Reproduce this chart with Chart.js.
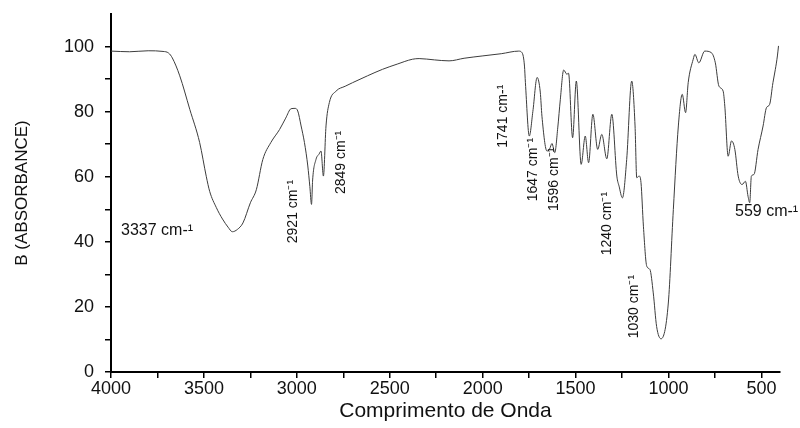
<!DOCTYPE html>
<html>
<head>
<meta charset="utf-8">
<script src="https://cdn.jsdelivr.net/npm/chart.js@4/dist/chart.umd.min.js"></script>
<style>
  body { margin: 0; background: #fff; }
</style>
</head>
<body>
<canvas id="chart" width="800" height="428"></canvas>
<script>
// espectro (numero de onda em cm-1, valor)
const waveNumbers = [
  4000, 3900, 3800, 3720, 3690, 3670, 3630, 3576, 3523, 3487, 3469, 3433, 3400, 3370, 3347,
  3320, 3290, 3250, 3218, 3183, 3140, 3093, 3060, 3031, 3010, 2995, 2977, 2959, 2941, 2930,
  2921, 2915, 2897, 2880, 2870, 2857, 2843, 2825, 2789, 2740, 2700, 2620, 2539, 2460, 2378,
  2342, 2260, 2181, 2100, 2003, 1900, 1806, 1788, 1775, 1770, 1749, 1730, 1707, 1690, 1681,
  1654, 1640, 1627, 1612, 1596, 1582, 1564, 1547, 1538, 1516, 1496, 1470, 1448, 1430, 1407,
  1381, 1359, 1332, 1305, 1278, 1266, 1248, 1225, 1198, 1180, 1171, 1158, 1148, 1135, 1117,
  1100, 1082, 1064, 1040, 1001, 974, 947, 926, 908, 894, 867, 858, 837, 805, 769,
  748, 729, 706, 697, 679, 661, 643, 625, 604, 586, 572, 563, 554, 540, 518,
  491, 473, 456, 438, 425, 414, 408
];
const absorbance = [
  98.6, 98.4, 98.7, 98.5, 98.0, 96.5, 91.0, 80.7, 70.5, 60.0, 55.5, 50.5, 47.0, 44.5, 43.1,
  43.8, 45.8, 52.0, 56.0, 65.3, 70.5, 74.5, 78.0, 80.9, 81.0, 80.2, 75.6, 70.5, 63.3, 57.0,
  51.5, 59.0, 65.3, 67.0, 67.9, 60.2, 75.6, 82.8, 86.3, 87.8, 88.9, 91.0, 93.0, 94.6, 96.1,
  96.3, 95.9, 95.6, 96.4, 97.1, 97.8, 98.6, 98.1, 94.0, 88.9, 72.5, 80.0, 90.5, 86.0, 78.6,
  67.9, 68.5, 70.2, 67.4, 75.0, 83.8, 92.8, 91.5, 91.8, 72.0, 89.4, 63.8, 72.5, 64.3, 79.2,
  68.4, 73.0, 65.5, 79.2, 60.2, 57.1, 53.5, 65.3, 89.4, 75.6, 59.7, 60.2, 58.2, 44.8, 32.5,
  31.5, 24.3, 14.0, 10.2, 21.2, 49.9, 75.6, 85.3, 79.7, 88.9, 96.1, 97.6, 95.0, 98.6, 98.1,
  95.0, 87.9, 86.3, 81.7, 66.3, 71.0, 68.4, 60.2, 57.6, 58.6, 54.0, 52.0, 60.2, 60.7, 68.4,
  75.6, 81.2, 82.2, 88.9, 93.0, 97.1, 100.2
];

// eixos
const xTickValues = [4000, 3750, 3500, 3250, 3000, 2750, 2500, 2250, 2000, 1750, 1500, 1250, 1000, 750, 500];
const xTickLabels = ["4000", "3500", "3000", "2500", "2000", "1500", "1000", "500"];
const yTickValues = [0, 10, 20, 30, 40, 50, 60, 70, 80, 90, 100];
const yTickLabels = ["0", "20", "40", "60", "80", "100"];

// rotulos dos picos: texto, numero de onda e valor onde o texto fica, vertical ou nao
const peakText = ["3337 cm-¹", "2921 cm⁻¹", "2849 cm⁻¹", "1741 cm-¹", "1647 cm⁻¹", "1596 cm⁻¹", "1240 cm⁻¹", "1030 cm⁻¹", "559 cm-¹"];
const peakAtX = [3946, 3018, 2763, 1892, 1731, 1613, 1328, 1184, 642];
const peakAtY = [43.5, 49.3, 64.4, 78.6, 62.2, 59.2, 45.6, 20.1, 49.3];
const peakVertical = [false, true, true, true, true, true, true, true, false];

const FONT = "'Liberation Sans', Arial, sans-serif";

const peakLabelsPlugin = {
  id: "peakLabels",
  afterDatasetsDraw(chart) {
    const { ctx, scales } = chart;
    ctx.save();
    ctx.fillStyle = "#111";
    peakText.forEach((txt, i) => {
      const px = scales.x.getPixelForValue(peakAtX[i]);
      const py = scales.y.getPixelForValue(peakAtY[i]);
      ctx.save();
      ctx.translate(px, py);
      if (peakVertical[i]) {
        ctx.rotate(-Math.PI / 2);
        ctx.font = "14px " + FONT;
        ctx.textAlign = "center";
      } else {
        ctx.font = "16px " + FONT;
        ctx.textAlign = "left";
      }
      ctx.textBaseline = "middle";
      ctx.fillText(txt, 0, 0);
      ctx.restore();
    });
    ctx.restore();
  },
};

const ctx = document.getElementById("chart").getContext("2d");

new Chart(ctx, {
  type: "line",
  data: {
    datasets: [
      {
        data: waveNumbers.map((w, i) => ({ x: w, y: absorbance[i] })),
        borderColor: "#3c3c3c",
        borderWidth: 1,
        pointRadius: 0,
        cubicInterpolationMode: "monotone",
        fill: false,
      },
    ],
  },
  options: {
    responsive: false,
    animation: false,
    devicePixelRatio: 1,
    layout: { padding: { top: 14, right: 20, left: 0, bottom: 0 } },
    plugins: { legend: { display: false }, tooltip: { enabled: false } },
    scales: {
      x: {
        type: "linear",
        reverse: true,
        min: 400,
        max: 4000,
        afterBuildTicks: (scale) => {
          scale.ticks = xTickValues.map((v) => ({ value: v }));
        },
        afterFit: (scale) => {
          scale.height = 56;
          scale.paddingLeft = 0;
          scale.paddingRight = 0;
        },
        ticks: {
          autoSkip: false,
          maxRotation: 0,
          padding: 0,
          color: "#111",
          font: { family: FONT, size: 18 },
          callback: (value) => (xTickLabels.includes(String(value)) ? String(value) : ""),
        },
        grid: { drawOnChartArea: false, drawTicks: true, tickLength: 6, color: "#000", lineWidth: 1.5 },
        border: { color: "#000", width: 2 },
        title: {
          display: true,
          text: "Comprimento de Onda",
          color: "#111",
          font: { family: FONT, size: 21 },
          padding: { top: 0, bottom: 4 },
        },
      },
      y: {
        type: "linear",
        min: 0,
        max: 110,
        afterBuildTicks: (scale) => {
          scale.ticks = yTickValues.map((v) => ({ value: v }));
        },
        afterFit: (scale) => {
          scale.width = 111;
          scale.paddingTop = 0;
          scale.paddingBottom = 0;
        },
        ticks: {
          autoSkip: false,
          padding: 11,
          color: "#111",
          font: { family: FONT, size: 18 },
          callback: (value) => (yTickLabels.includes(String(value)) ? String(value) : ""),
        },
        grid: { drawOnChartArea: false, drawTicks: true, tickLength: 6, color: "#000", lineWidth: 1.5 },
        border: { color: "#000", width: 2 },
        title: {
          display: true,
          text: "B (ABSORBANCE)",
          color: "#111",
          font: { family: FONT, size: 17 },
          padding: { top: 12, bottom: 0 },
        },
      },
    },
  },
  plugins: [peakLabelsPlugin],
});
</script>
</body>
</html>
